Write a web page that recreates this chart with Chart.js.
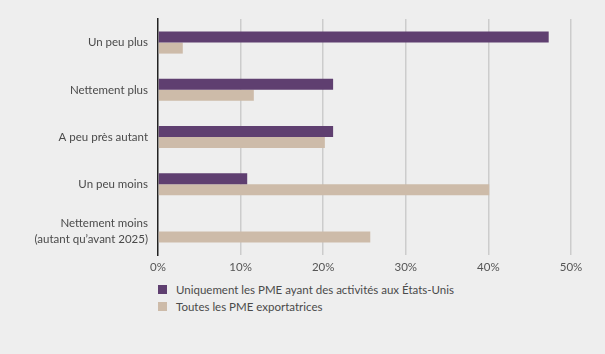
<!DOCTYPE html>
<html>
<head>
<meta charset="utf-8">
<script src="https://cdn.jsdelivr.net/npm/chart.js@4"></script>
<style>
  body { margin: 0; background: #eeeeee; }
  #wrap { position: relative; width: 605px; height: 354px; background: #eeeeee; }
  #chartBox { position: absolute; left: 0; top: 0; width: 605px; height: 280px; }
  #legend { position: absolute; left: 158px; top: 281px; font-family: Lato, "Open Sans", sans-serif; font-size: 11.5px; color: #4a4a4a; }
  .item { height: 17px; line-height: 17px; display: flex; align-items: center; }
  .sw { width: 9px; height: 9px; margin-right: 9px; }
</style>
</head>
<body>
<div id="wrap">
  <div id="chartBox"><canvas id="chartCanvas"></canvas></div>
  <div id="legend"></div>
</div>
<script>
// Données
const categories = [
    "Un peu plus",
    "Nettement plus",
    "A peu près autant",
    "Un peu moins",
    ["Nettement moins", "(autant qu’avant 2025)"]
];
const seriesNames = [
    "Uniquement les PME ayant des activités aux États-Unis",
    "Toutes les PME exportatrices"
];
const pmeEtatsUnis = [47.3, 21.2, 21.2, 10.8, 0];
const toutesPme = [3.0, 11.6, 20.2, 40.1, 25.7];
const xTicks = [0, 10, 20, 30, 40, 50];

const colors = ["#5f3f70", "#cdbba9"];
const fontFamily = "Lato, 'Open Sans', sans-serif";

const ctx = document.getElementById("chartCanvas").getContext("2d");

new Chart(ctx, {
    type: "bar",
    data: {
        labels: categories,
        datasets: [
            { label: seriesNames[0], data: pmeEtatsUnis, backgroundColor: colors[0] },
            { label: seriesNames[1], data: toutesPme, backgroundColor: colors[1] }
        ]
    },
    options: {
        indexAxis: "y",
        responsive: true,
        maintainAspectRatio: false,
        animation: false,
        layout: { padding: { top: 19, right: 34, left: 0, bottom: 0 } },
        datasets: { bar: { categoryPercentage: 0.466, barPercentage: 1 } },
        plugins: { legend: { display: false }, tooltip: { enabled: false } },
        scales: {
            x: {
                min: 0,
                max: 50,
                afterBuildTicks: s => { s.ticks = xTicks.map(v => ({ value: v })); },
                afterFit: s => { s.height = 25; s.paddingLeft = 0; s.paddingRight = 0; },
                border: { display: false },
                grid: {
                    drawTicks: false,
                    lineWidth: 1.5,
                    color: c => c.tick && c.tick.value === 0 ? "rgba(0,0,0,0)" : "#cccccc"
                },
                ticks: {
                    padding: 5,
                    color: "#555555",
                    font: { family: fontFamily, size: 11.5 },
                    callback: v => v + "%"
                }
            },
            y: {
                afterFit: s => { s.width = 158; s.paddingTop = 0; s.paddingBottom = 0; },
                border: { display: true, color: "#222222", width: 1.5 },
                grid: { display: false, drawTicks: false },
                ticks: {
                    padding: 10,
                    color: "#4a4a4a",
                    font: { family: fontFamily, size: 11.5, lineHeight: 1.35 }
                }
            }
        }
    }
});

// Légende
const legend = document.getElementById("legend");
seriesNames.forEach((name, i) => {
    legend.innerHTML += `<div class="item"><span class="sw" style="background:${colors[i]}"></span>${name}</div>`;
});
</script>
</body>
</html>
